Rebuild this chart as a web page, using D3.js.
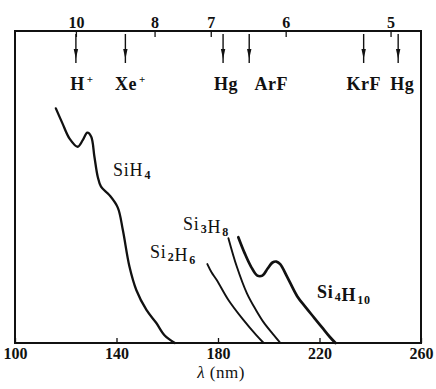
<!DOCTYPE html>
<html>
<head>
<meta charset="utf-8">
<script src="https://cdn.jsdelivr.net/npm/d3@7"></script>
<style>
  body { margin: 0; background: #fff; }
  text { font-family: "Liberation Serif", "DejaVu Serif", serif; fill: #111; }
</style>
</head>
<body>
<svg id="chart" width="436" height="389"></svg>
<script>
// wavelength ticks (nm) and photon energy ticks (eV) on the top
var lambdaTicks = [100, 140, 180, 220, 260];
var energyTicks = [10, 8, 7, 6, 5];

// light sources marked with arrows
var sourceNames = ['H', 'Xe', 'Hg', 'ArF', 'KrF', 'Hg'];
var sourceSup = ['+', '+', '', '', '', ''];
var sourceLambda = [124, 143.5, 182, 192.3, 237.4, 251];

// absorption curves: [lambda nm, relative absorbance]
var sih4 = [[116.1, 75.2], [118.7, 70.4], [121.5, 65.5], [124.7, 62.9], [126.7, 65], [128.5, 67.4],
  [130, 66.2], [131.3, 59.7], [132.6, 53.3], [133.9, 50.1], [137.2, 47.4], [140.5, 43.4],
  [142.5, 36.2], [145.1, 24.5], [147.8, 17], [151.8, 10.6], [155.7, 6.4], [159, 2.4], [163, 0]];
var si2h6 = [[175.8, 25.3], [177.5, 22.6], [179.5, 20.2], [184.1, 13.8], [190, 7.4], [195, 2.6], [198, 0]];
var si3h8 = [[184.1, 33.6], [187.4, 24.5], [191.4, 15.9], [195, 10.5], [198, 6.6], [201.5, 3], [204.6, 0]];
var si4h10 = [[188, 33.9], [190.5, 28.8], [193, 24.5], [195.5, 21.6], [197.5, 21.6], [199.5, 23.8],
  [201.5, 25.8], [203, 26.1], [204.5, 25.3], [207.2, 21.3], [211.2, 15.0], [214.5, 11.5],
  [218, 8], [221, 5], [224, 2], [226.3, 0]];

var svg = d3.select('#chart');
var plotL = 15, plotR = 421, plotT = 31, plotB = 343;

var x = d3.scaleLinear().domain([100, 260]).range([plotL, plotR]);
var y = d3.scaleLinear().domain([0, 100]).range([plotB, plotT]);

// frame
svg.append('rect')
    .attr('x', plotL).attr('y', plotT)
    .attr('width', plotR - plotL).attr('height', plotB - plotT)
    .attr('fill', 'none').attr('stroke', '#111').attr('stroke-width', 2);

// bottom axis
var bottomAxis = svg.append('g')
    .attr('transform', 'translate(0,' + plotB + ')')
    .call(d3.axisBottom(x).tickValues(lambdaTicks).tickSize(-5).tickPadding(5));
bottomAxis.select('.domain').remove();
bottomAxis.selectAll('line').attr('stroke', '#111').attr('stroke-width', 1.3);
bottomAxis.selectAll('text')
    .style('font-family', '"Liberation Serif", serif')
    .style('font-size', '16px').style('font-weight', 'bold').attr('fill', '#111');

// top axis in eV (E = 1240 / lambda)
var topAxis = svg.append('g')
    .attr('transform', 'translate(0,' + plotT + ')')
    .call(d3.axisTop(x)
        .tickValues(energyTicks.map(function (e) { return 1240 / e; }))
        .tickFormat(function (d, i) { return energyTicks[i]; })
        .tickSize(-6).tickPadding(3));
topAxis.select('.domain').remove();
topAxis.selectAll('line').attr('stroke', '#111').attr('stroke-width', 1.3);
topAxis.selectAll('text')
    .style('font-family', '"Liberation Serif", serif')
    .style('font-size', '16px').style('font-weight', 'bold').attr('fill', '#111');

svg.append('text')
    .attr('x', 221).attr('y', 378)
    .attr('text-anchor', 'middle')
    .style('font-size', '17px').style('letter-spacing', '0.5px')
    .html('<tspan font-style="italic">λ</tspan> (nm)');

// source arrows
var labelDx = [6, 5, 3, 22, 0, 4];
var arrows = svg.selectAll('.src').data(sourceLambda).enter().append('g').attr('class', 'src');
arrows.append('line')
    .attr('x1', function (d) { return x(d); }).attr('x2', function (d) { return x(d); })
    .attr('y1', plotT + 3).attr('y2', plotT + 32)
    .attr('stroke', '#111').attr('stroke-width', 1.4);
arrows.append('path')
    .attr('d', function (d) {
        var cx = x(d);
        return 'M' + (cx - 2.2) + ',' + (plotT + 18) + 'L' + (cx + 2.2) + ',' + (plotT + 18) + 'L' + cx + ',' + (plotT + 28) + 'Z';
    })
    .attr('fill', '#111');
arrows.append('text')
    .attr('x', function (d, i) { return x(d) + labelDx[i]; })
    .attr('y', 90)
    .attr('text-anchor', 'middle')
    .style('font-size', '18px').style('font-weight', 'bold').style('letter-spacing', '0.5px')
    .html(function (d, i) {
        return sourceNames[i] + (sourceSup[i] ? '<tspan dx="2" dy="-7" font-size="11">' + sourceSup[i] + '</tspan>' : '');
    });

// curves
var line = d3.line()
    .x(function (d) { return x(d[0]); })
    .y(function (d) { return y(d[1]); })
    .curve(d3.curveCatmullRom.alpha(0.5));

var curves = [
    { data: sih4, w: 2.3 },
    { data: si2h6, w: 1.9 },
    { data: si3h8, w: 1.9 },
    { data: si4h10, w: 2.7 }
];
svg.selectAll('.curve').data(curves).enter().append('path')
    .attr('class', 'curve')
    .attr('d', function (d) { return line(d.data); })
    .attr('fill', 'none').attr('stroke', '#111')
    .attr('stroke-width', function (d) { return d.w; })
    .attr('stroke-linecap', 'round');

// curve labels with subscripts
function formula(xp, yp, parts, bold) {
    var t = svg.append('text').attr('x', xp).attr('y', yp)
        .style('font-size', '18px').style('letter-spacing', '0.8px')
        .style('font-weight', bold ? 'bold' : 'normal');
    parts.forEach(function (p) {
        if (p.sub) {
            t.append('tspan').attr('dy', 3).attr('dx', 1).attr('font-size', '12px').attr('font-weight', 'bold').text(p.t);
            t.append('tspan').attr('dy', -3).text('');
        } else {
            t.append('tspan').text(p.t);
        }
    });
}
formula(113, 176, [{ t: 'SiH' }, { t: '4', sub: true }], false);
formula(183, 230, [{ t: 'Si' }, { t: '3', sub: true }, { t: 'H' }, { t: '8', sub: true }], false);
formula(150, 258, [{ t: 'Si' }, { t: '2', sub: true }, { t: 'H' }, { t: '6', sub: true }], false);
formula(317, 298, [{ t: 'Si' }, { t: '4', sub: true }, { t: 'H' }, { t: '10', sub: true }], true);
</script>
</body>
</html>
